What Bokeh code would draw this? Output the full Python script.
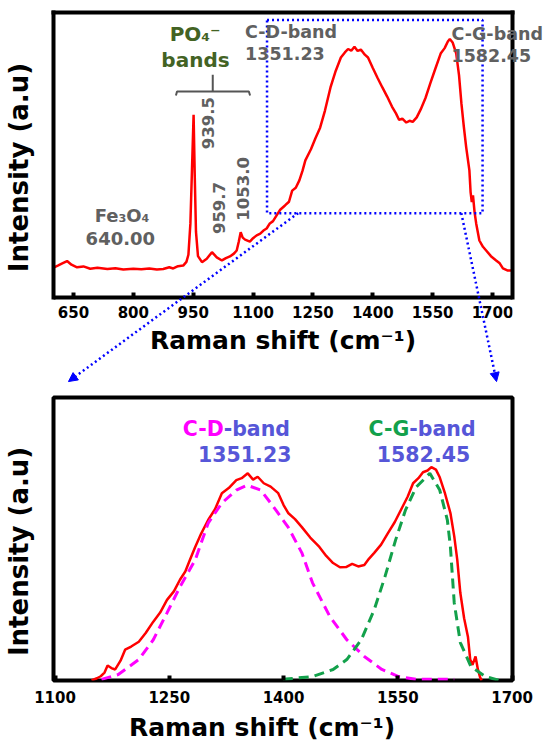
from bokeh.plotting import figure
from bokeh.models import Range1d, Label, Arrow, NormalHead, FixedTicker, LinearAxis
from bokeh.layouts import column
from bokeh.embed import file_html
from bokeh.resources import INLINE

FONT = "DejaVu Sans"
RED = "#ff0000"
GRAY = "#606060"
DKGREEN = "#436324"
BLUE_TXT = "#5656d8"
MAGENTA = "#ff00ff"
GREEN = "#13a14b"
BLUE = "#0000ff"

# ---------------- data: full spectrum (top panel) ----------------
top_shift = [600, 612, 622, 634, 645, 659, 675, 692, 710, 735, 755, 775, 800, 820, 840,
             859, 875, 890, 900, 912, 925, 933, 938, 943, 947, 951, 954, 957, 962, 972,
             984, 997, 1009, 1022, 1032, 1042, 1052, 1059, 1064, 1069, 1074, 1080, 1092,
             1100, 1109, 1118, 1126, 1134, 1142, 1150, 1159, 1168, 1180, 1190, 1198, 1207,
             1216, 1224, 1231, 1245, 1256, 1268, 1280, 1294, 1307, 1320, 1330, 1338, 1346,
             1354, 1362, 1370, 1380, 1388, 1400, 1412, 1424, 1436, 1448, 1458, 1466, 1474,
             1484, 1492, 1500, 1510, 1520, 1532, 1544, 1556, 1570, 1580, 1588, 1593, 1600,
             1609, 1616, 1622, 1628, 1634, 1642, 1645, 1648, 1651, 1655, 1659, 1667, 1676,
             1684, 1696, 1709, 1718, 1726, 1737, 1750]
top_intensity = [10.5, 11.3, 12.0, 12.8, 11.5, 10.6, 10.9, 10.1, 10.4, 10.0, 10.3, 9.8, 10.1,
                 9.9, 10.2, 9.8, 10.0, 10.6, 10.2, 11.0, 11.2, 12.5, 15.0, 26.0, 45.0, 64.1,
                 42.0, 23.0, 14.5, 12.4, 13.6, 15.9, 14.1, 13.0, 13.8, 14.4, 15.4, 16.5, 19.5,
                 22.9, 21.0, 20.3, 19.6, 20.8, 21.8, 22.4, 23.5, 24.2, 26.0, 26.8, 28.8, 30.8,
                 32.3, 33.6, 37.5, 38.5, 41.1, 44.5, 48.1, 52.0, 55.8, 59.6, 65.5, 73.7, 79.5,
                 84.2, 86.0, 87.2, 86.6, 88.0, 86.5, 87.0, 85.2, 84.2, 80.5, 77.0, 73.7, 70.5,
                 67.0, 64.6, 62.3, 62.8, 61.4, 62.0, 61.6, 63.2, 66.0, 70.0, 75.1, 80.0, 85.6,
                 87.5, 89.8, 90.7, 89.5, 85.6, 78.0, 68.1, 60.0, 52.7, 44.6, 37.0, 33.5, 35.8,
                 29.9, 26.0, 20.0, 17.8, 16.5, 14.5, 13.0, 12.0, 10.2, 9.5, 9.5]
top_ticks = [650, 800, 950, 1100, 1250, 1400, 1550, 1700]

# zoom box [left, right, bottom, top] and bracket over the PO4 bands
zoom_box = [1135, 1675, 29.6, 97.4]
bracket_x = [[906.75, 909.5, 1089.5, 1092.5], [999, 999]]
bracket_y = [[70.9, 72.3, 72.3, 70.9], [72.3, 78.2]]
# connector arrows (start on the zoom box, end just above the zoomed panel)
conn_start = [(1213, 29.6), (1621.75, 29.6)]
conn_end = [(637.5, -29.5), (1710, -29.5)]

# ---------------- data: zoomed region (bottom panel) ----------------
bot_shift = [1148, 1155, 1160, 1165, 1169, 1174, 1179, 1186, 1192, 1200, 1210, 1219, 1229,
             1238, 1247, 1256, 1264, 1271, 1277, 1284, 1292, 1301, 1310, 1319, 1328, 1338,
             1345, 1353, 1360, 1366, 1374, 1383, 1393, 1400, 1406, 1415, 1424, 1435, 1447,
             1456, 1465, 1474, 1482, 1490, 1498, 1506, 1512, 1519, 1528, 1537, 1546, 1556,
             1563, 1570, 1577, 1583, 1589, 1594, 1600, 1605, 1612, 1619, 1624, 1628, 1632,
             1637, 1642, 1645, 1648, 1652, 1655, 1658, 1660]
bot_intensity = [0.0, 0.8, 1.5, 2.8, 5.3, 4.4, 3.9, 7.0, 10.9, 12.0, 13.7, 16.8, 20.8, 24.0,
                 28.5, 31.5, 35.6, 38.5, 42.6, 47.2, 52.0, 56.7, 60.5, 66.2, 68.0, 70.8, 71.5,
                 73.2, 71.0, 72.0, 69.7, 68.5, 66.2, 62.0, 59.2, 57.0, 54.2, 50.5, 47.2, 44.0,
                 41.5, 40.0, 40.1, 41.2, 40.3, 40.8, 43.0, 45.1, 48.0, 52.1, 56.0, 61.3, 65.0,
                 69.7, 71.5, 73.6, 74.2, 75.4, 74.5, 71.8, 66.0, 59.2, 51.0, 42.6, 31.0, 22.0,
                 15.5, 7.4, 5.5, 8.5, 4.0, 1.1, 0.0]

d_fit_shift = [1161, 1183, 1210, 1229, 1247, 1264, 1284, 1301, 1319, 1338, 1352, 1370, 1387,
               1406, 1424, 1438, 1461, 1483, 1506, 1529, 1551, 1574, 1624]
d_fit_intensity = [0.4, 2.1, 7.4, 14.4, 23.9, 33.1, 42.6, 55.6, 62.7, 67.3, 69.0, 67.3, 61.3,
                   54.2, 45.1, 34.5, 22.5, 14.4, 8.5, 3.9, 1.4, 0.4, 0.4]

g_fit_shift = [1399, 1438, 1465, 1483, 1502, 1519, 1533, 1547, 1560, 1574, 1592, 1605, 1615,
               1619, 1624, 1632, 1646, 1665, 1683]
g_fit_intensity = [0.4, 1.4, 3.9, 7.4, 14.4, 25.0, 36.6, 49.6, 60.2, 68.3, 73.2, 67.3, 56.7,
                   47.2, 27.5, 13.4, 4.9, 1.4, 0.0]
bot_ticks = [1100, 1250, 1400, 1550, 1700]

XLABEL = "Raman shift (cm\u207b\u00b9)"
YLABEL = "Intensity (a.u)"


def hide_axis_marks(ax):
    ax.axis_line_color = None
    ax.major_tick_line_color = None
    ax.minor_tick_line_color = None
    ax.major_tick_in = 0
    ax.major_tick_out = 0
    ax.minor_tick_in = 0
    ax.minor_tick_out = 0


def box_line(ax):
    ax.axis_line_color = "black"
    ax.axis_line_width = 4
    ax.axis_line_cap = "square"


def bold(ax, size, color):
    ax.major_label_text_font = FONT
    ax.major_label_text_font_style = "bold"
    ax.major_label_text_font_size = size
    ax.major_label_text_color = color


def tick_axis(ax, ticks, standoff):
    ax.ticker = FixedTicker(ticks=ticks)
    ax.major_tick_in = 5
    ax.major_tick_out = 0
    ax.major_tick_line_width = 4
    ax.minor_tick_line_color = None
    ax.minor_tick_in = 0
    ax.minor_tick_out = 0
    bold(ax, "15px", "black")
    ax.major_label_standoff = standoff


def ytitle_axis(ya, ylab_y):
    hide_axis_marks(ya)
    ya.ticker = FixedTicker(ticks=[ylab_y])
    ya.major_label_overrides = {ylab_y: YLABEL}
    ya.major_label_orientation = "parallel"
    ya.major_label_standoff = 19
    bold(ya, "26px", "black")


def txt(p, x, y, text, size, color, align="center", angle=0):
    p.add_layout(Label(x=x, y=y, text=text, text_font=FONT, text_font_style="bold",
                       text_font_size=size, text_color=color, text_align=align,
                       text_baseline="middle", angle=angle, angle_units="deg"))


# ---------------- top panel ----------------
# the frame reaches down to the zoomed panel so the connector arrows can be drawn;
# the visible box of the panel is made of axis lines bounded to 0..100
top = figure(width=545, height=388, output_backend="svg", toolbar_location=None,
             x_range=Range1d(600, 1750), y_range=Range1d(-31.93, 100),
             min_border_left=53, min_border_right=31, min_border_top=12,
             min_border_bottom=0)
top.outline_line_color = None
top.xgrid.visible = False
top.ygrid.visible = False
top.background_fill_color = "white"
top.border_fill_color = "white"

xa = top.xaxis[0]
xa.fixed_location = 0
box_line(xa)
tick_axis(xa, top_ticks, 9)
xa.axis_label = XLABEL
xa.axis_label_text_font = FONT
xa.axis_label_text_font_style = "bold"
xa.axis_label_text_font_size = "25px"
xa.axis_label_text_color = "black"
xa.axis_label_standoff = 4

ya = top.yaxis[0]
ytitle_axis(ya, 45.6)
box_line(ya)
ya.bounds = (0, 100)

# labels that run past the right edge of the box: a right axis with negative standoff
cg_axis = LinearAxis(ticker=FixedTicker(ticks=[92.3, 84.6]),
                     major_label_overrides={92.3: "C-G-band", 84.6: "1582.45"})
hide_axis_marks(cg_axis)
box_line(cg_axis)
cg_axis.bounds = (0, 100)
cg_axis.major_label_standoff = -61
bold(cg_axis, "17.5px", GRAY)
top.add_layout(cg_axis, "right")

top_edge = LinearAxis(ticker=FixedTicker(ticks=[]))
hide_axis_marks(top_edge)
box_line(top_edge)
top_edge.major_label_standoff = 0
top_edge.major_label_text_font_size = "0px"
top.add_layout(top_edge, "above")

top.line(top_shift, top_intensity, line_color=RED, line_width=2.5)
top.quad(left=[zoom_box[0]], right=[zoom_box[1]], bottom=[zoom_box[2]], top=[zoom_box[3]],
         fill_color=None, line_color=BLUE, line_width=2.5, line_dash="2 3")
top.multi_line(bracket_x, bracket_y, line_color="#555555", line_width=2)

for (xs, ys), (xe, ye) in zip(conn_start, conn_end):
    top.add_layout(Arrow(end=NormalHead(size=9, fill_color=BLUE, line_color=BLUE, line_width=1),
                         x_start=xs, y_start=ys, x_end=xe, y_end=ye,
                         line_color=BLUE, line_width=2.5, line_dash="2 3"))

txt(top, 955, 92.3, "PO\u2084\u207b", "20px", DKGREEN)
txt(top, 955.8, 83.2, "bands", "20px", DKGREEN)
txt(top, 1080, 93.3, "C-D-band", "17.5px", GRAY, align="left")
txt(top, 1080, 85.5, "1351.23", "17.5px", GRAY, align="left")
txt(top, 771.75, 28.6, "Fe\u2083O\u2084", "18px", GRAY)
txt(top, 767.5, 20.6, "640.00", "18px", GRAY)
txt(top, 986, 61.2, "939.5", "16.5px", GRAY, angle=90)
txt(top, 1014, 31.4, "959.7", "16.5px", GRAY, angle=90)
txt(top, 1075, 38.1, "1053.0", "16.5px", GRAY, angle=90)

# ---------------- bottom panel ----------------
bot = figure(width=545, height=356, output_backend="svg", toolbar_location=None,
             x_range=Range1d(1098, 1700.5), y_range=Range1d(0, 100),
             min_border_left=53, min_border_right=31, min_border_top=9,
             min_border_bottom=63)
bot.outline_line_color = "black"
bot.outline_line_width = 4
bot.xgrid.visible = False
bot.ygrid.visible = False
bot.background_fill_color = "white"
bot.border_fill_color = "white"
bxa = bot.xaxis[0]
bxa.axis_line_color = None
tick_axis(bxa, bot_ticks, 10)
ytitle_axis(bot.yaxis[0], 45.6)

# x title of the zoomed panel sits left of centre: second below-axis carrying it
xt_axis = LinearAxis(ticker=FixedTicker(ticks=[1371.8]),
                     major_label_overrides={1371.8: XLABEL})
hide_axis_marks(xt_axis)
xt_axis.major_label_standoff = 7
bold(xt_axis, "25px", "black")
bot.add_layout(xt_axis, "below")

bot.line(bot_shift, bot_intensity, line_color=RED, line_width=2.5)
bot.line(d_fit_shift, d_fit_intensity, line_color=MAGENTA, line_width=3, line_dash="10 6")
bot.line(g_fit_shift, g_fit_intensity, line_color=GREEN, line_width=3, line_dash="10 6")

txt(bot, 1321.4, 88.9, "C-D", "20.5px", MAGENTA, align="right")
txt(bot, 1321.4, 88.9, "-band", "20.5px", BLUE_TXT, align="left")
txt(bot, 1349, 80.1, "1351.23", "20.5px", BLUE_TXT)
txt(bot, 1565.1, 88.9, "C-G", "20.5px", GREEN, align="right")
txt(bot, 1565.1, 88.9, "-band", "20.5px", BLUE_TXT, align="left")
txt(bot, 1583.7, 80.1, "1582.45", "20.5px", BLUE_TXT)

layout = column(top, bot, spacing=0)
open("out.html", "w").write(file_html(layout, INLINE))
